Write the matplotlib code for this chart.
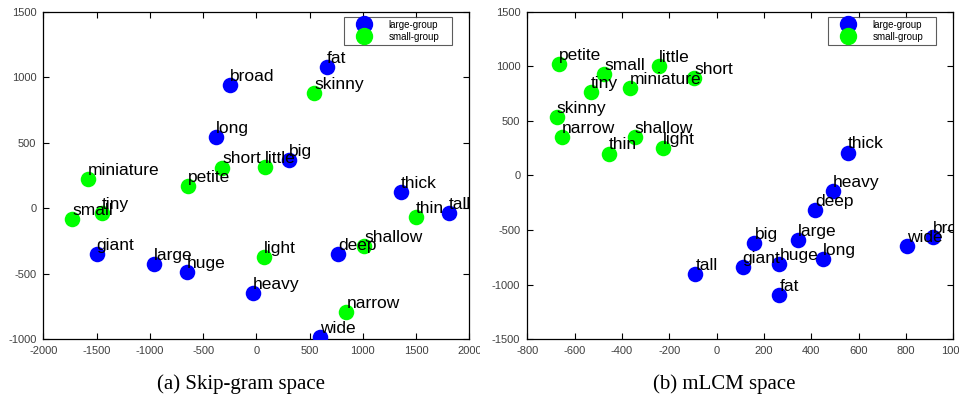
import matplotlib
matplotlib.use("Agg")
import matplotlib.pyplot as plt
from matplotlib.lines import Line2D
from matplotlib.transforms import Bbox, TransformedBbox

BLUE = "#0000ff"
GREEN = "#00ff00"

# (a) Skip-gram space
sg_large_words = ["broad", "fat", "long", "big", "thick", "tall", "giant", "large", "huge", "heavy", "deep", "wide"]
sg_large_x = [-250, 660, -380, 310, 1360, 1810, -1500, -960, -655, -35, 765, 600]
sg_large_y = [940, 1080, 540, 365, 125, -35, -350, -425, -490, -645, -350, -985]
sg_small_words = ["skinny", "short", "little", "miniature", "petite", "small", "tiny", "light", "shallow", "thin", "narrow"]
sg_small_x = [545, -320, 80, -1580, -640, -1730, -1450, 75, 1015, 1495, 845]
sg_small_y = [880, 310, 315, 225, 170, -80, -40, -375, -290, -70, -790]

# (b) mLCM space
ml_large_words = ["thick", "heavy", "deep", "big", "large", "long", "huge", "giant", "tall", "fat", "wide", "broad"]
ml_large_x = [555, 490, 415, 160, 345, 450, 265, 110, -90, 265, 805, 915]
ml_large_y = [210, -140, -320, -620, -595, -765, -815, -840, -900, -1095, -645, -565]
ml_small_words = ["petite", "small", "little", "short", "tiny", "miniature", "skinny", "narrow", "shallow", "thin", "light"]
ml_small_x = [-665, -475, -245, -95, -530, -365, -675, -655, -345, -455, -225]
ml_small_y = [1020, 930, 1005, 895, 765, 800, 535, 355, 350, 200, 250]

plt.rcParams['font.family'] = ['Liberation Sans', 'DejaVu Sans']
plt.rcParams['axes.unicode_minus'] = False


def draw_panel(ax, lx, ly, lw, sx, sy, sw, xlim, ylim, xticks, yticks):
    ax.scatter(lx, ly, s=125, color=BLUE, zorder=3, linewidths=0)
    ax.scatter(sx, sy, s=125, color=GREEN, zorder=3, linewidths=0)
    for x, y, w in list(zip(lx, ly, lw)) + list(zip(sx, sy, sw)):
        ax.annotate(w, (x, y), xytext=(0, 3), textcoords="offset points",
                    fontsize=12.5, ha="left", va="baseline", zorder=4,
                    annotation_clip=False, clip_on=True)
    ax.set_xlim(*xlim)
    ax.set_ylim(*ylim)
    ax.set_xticks(xticks)
    ax.set_yticks(yticks)
    ax.tick_params(direction="in", top=True, right=True, length=4,
                   labelsize=8, labelcolor="#404040", width=0.8, pad=5)
    for sp in ax.spines.values():
        sp.set_linewidth(0.9)
    handles = [Line2D([], [], marker="o", ls="none", color=BLUE, markersize=11.5),
               Line2D([], [], marker="o", ls="none", color=GREEN, markersize=11.5)]
    leg = ax.legend(handles, ["large-group", "small-group"], loc="upper left",
                    mode="expand", bbox_to_anchor=(0.706, 0.984, 0.253, 0),
                    borderaxespad=0, fontsize=7, frameon=True, fancybox=False,
                    borderpad=0.3, labelspacing=0.2, handlelength=3.5,
                    handletextpad=0.8)
    leg.get_frame().set_edgecolor("#333333")
    leg.get_frame().set_linewidth(0.8)


fig = plt.figure(figsize=(9.59, 3.96), dpi=100)
ax1 = fig.add_axes([0.0452, 0.1432, 0.4442, 0.8273])
ax2 = fig.add_axes([0.5498, 0.1432, 0.4442, 0.8273])

draw_panel(ax1, sg_large_x, sg_large_y, sg_large_words, sg_small_x, sg_small_y, sg_small_words,
           (-2000, 2000), (-1000, 1500), range(-2000, 2001, 500), range(-1000, 1501, 500))
draw_panel(ax2, ml_large_x, ml_large_y, ml_large_words, ml_small_x, ml_small_y, ml_small_words,
           (-800, 1000), (-1500, 1500), range(-800, 1001, 200), range(-1500, 1501, 500))

# left panel was cropped at its own edge in the source figure
left_box = TransformedBbox(Bbox([[0, 0], [480 / 959, 1]]), fig.transFigure)
for lab in ax1.get_xticklabels():
    lab.set_clip_box(left_box)
    lab.set_clip_on(True)

fig.text(241 / 959, 1 - 384 / 396, "(a) Skip-gram space", ha="center", va="center",
         fontsize=15, family="Liberation Serif")
fig.text(724 / 959, 1 - 384 / 396, "(b) mLCM space", ha="center", va="center",
         fontsize=15, family="Liberation Serif")

fig.savefig("out.png", dpi=100)
